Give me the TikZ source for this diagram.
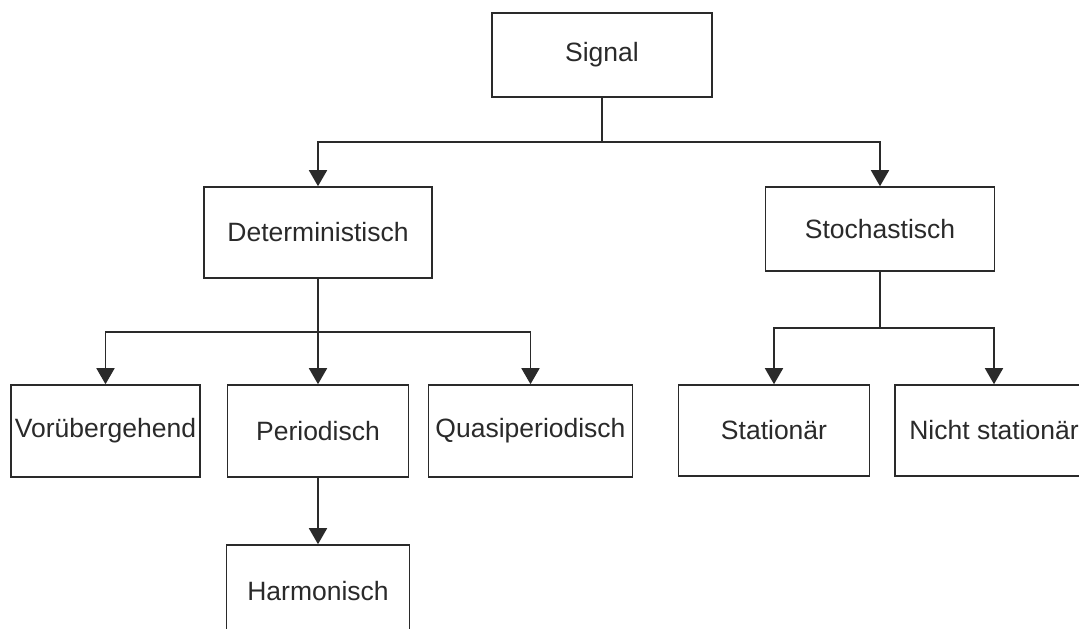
\documentclass[tikz,border=0pt]{standalone}
\usepackage{fontspec}
\setmainfont{Liberation Sans}
\usetikzlibrary{arrows.meta}
\definecolor{ink}{HTML}{2A2A2A}
\tikzset{
  box/.style={draw=ink, line width=1.6pt, rectangle, inner sep=0pt, text=ink,
    font=\fontsize{26.5}{30}\selectfont},
  link/.style={draw=ink, line width=1.7pt},
  arr/.style={link, -{Triangle[width=18pt,length=16pt]}}
}
\begin{document}
\begin{tikzpicture}[x=1pt,y=-1pt]
\useasboundingbox (0,0) rectangle (1079,629);
\clip (0,0) rectangle (1079,629);
\fill[white] (0,0) rectangle (1079,629);
\node[box, minimum width=220pt, minimum height=84pt] (sig) at (602,55) {Signal};
\node[box, minimum width=228pt, minimum height=91pt] (det) at (318,232.5) {Deterministisch};
\node[box, minimum width=229pt, minimum height=84pt] (sto) at (880,229) {Stochastisch};
\node[box, minimum width=189pt, minimum height=92pt] (vor) at (105.5,431) {Vorübergehend};
\node[box, minimum width=181pt, minimum height=92pt] (per) at (318,431) {Periodisch};
\node[box, minimum width=204pt, minimum height=92pt] (qua) at (530.5,431) {Quasiperiodisch};
\node[box, minimum width=191pt, minimum height=91pt] (sta) at (774,430.5) {Stationär};
\node[box, minimum width=198pt, minimum height=91pt] (nst) at (994,430.5) {Nicht stationär};
\node[box, minimum width=183pt, minimum height=92pt] (har) at (318,591) {Harmonisch};
\coordinate (j1) at (602,142);
\coordinate (j2) at (318,332);
\coordinate (j3) at (880,328);
\draw[link] (sig.south) -- (j1);
\draw[arr] (j1) -| (det.north);
\draw[arr] (j1) -| (sto.north);
\draw[link] (det.south) -- (j2);
\draw[arr] (j2) -| (vor.north);
\draw[arr] (j2) -- (per.north);
\draw[arr] (j2) -| (qua.north);
\draw[link] (sto.south) -- (j3);
\draw[arr] (j3) -| (sta.north);
\draw[arr] (j3) -| (nst.north);
\draw[arr] (per.south) -- (har.north);
\end{tikzpicture}
\end{document}
